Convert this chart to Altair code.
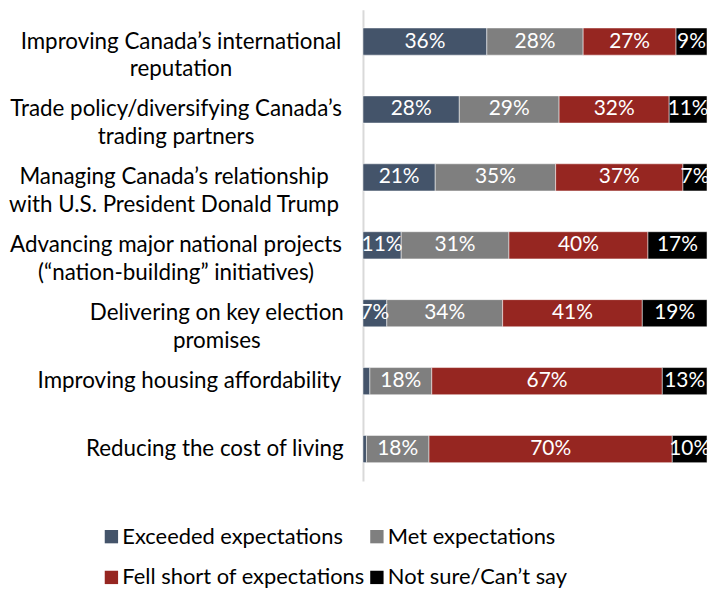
import altair as alt
import pandas as pd

categories = [
    "Improving Canada’s international\nreputation",
    "Trade policy/diversifying Canada’s\ntrading partners",
    "Managing Canada’s relationship\nwith U.S. President Donald Trump",
    "Advancing major national projects\n(“nation-building” initiatives)",
    "Delivering on key election\npromises",
    "Improving housing affordability",
    "Reducing the cost of living",
]
series = ["Exceeded expectations", "Met expectations",
          "Fell short of expectations", "Not sure/Can’t say"]
exceeded = [36, 28, 21, 11, 7, 2, 1]
met = [28, 29, 35, 31, 34, 18, 18]
fell_short = [27, 32, 37, 40, 41, 67, 70]
not_sure = [9, 11, 7, 17, 19, 13, 10]
colors = ["#44546A", "#7F7F7F", "#962621", "#000000"]

rows = []
for i, cat in enumerate(categories):
    for j, (s, vals) in enumerate(zip(series, [exceeded, met, fell_short, not_sure])):
        v = vals[i]
        rows.append({"category": cat, "series": s, "order": j, "value": v,
                     "label": f"{v}%" if v >= 5 else ""})
df = pd.DataFrame(rows)

FONT = "Lato"
LABEL_GAP = 22
# approximate rendered width of the widest line of each label (px), used to
# centre wrapped lines the way the original chart does
label_widths = {"reputation": 323, "trading partners": 333, "Donald Trump": 337,
                "initiatives": 333, "promises": 251, "housing": 306,
                "cost of living": 255}
pad_conditions = [
    {"test": f"indexof(datum.value, '{k}') >= 0", "value": LABEL_GAP + w / 2}
    for k, w in label_widths.items()
]

base = alt.Chart(df).transform_stack(
    stack="value", groupby=["category"], as_=["x0", "x1"],
    offset="normalize", sort=[alt.SortField("order")]
).transform_calculate(mid="(datum.x0 + datum.x1) / 2")

y_enc = alt.Y("category:N", sort=categories, title=None,
              scale=alt.Scale(paddingInner=0.6, paddingOuter=0.27),
              axis=alt.Axis(labelExpr="split(datum.label, '\\n')",
                            labelFontSize=22.5, labelFont=FONT, labelColor="#000000",
                            labelLineHeight=28, labelLimit=0,
                            labelAlign="center",
                            labelPadding={"condition": pad_conditions, "value": 180},
                            ticks=False, domainColor="#D9D9D9", domainWidth=2))

bars = base.mark_bar(stroke="white", strokeWidth=0.5).encode(
    x=alt.X("x0:Q", axis=None, scale=alt.Scale(domain=[0, 1], nice=False)),
    x2="x1:Q",
    y=y_enc,
    color=alt.Color("series:N", sort=series,
                    scale=alt.Scale(domain=series, range=colors),
                    legend=alt.Legend(title=None, orient="none", columns=2,
                                      direction="horizontal",
                                      legendX=-264, legendY=519,
                                      symbolType="square", symbolSize=180,
                                      symbolStrokeWidth=0,
                                      labelFontSize=22, labelFont=FONT,
                                      labelColor="#000000", labelLimit=0,
                                      columnPadding=1, rowPadding=19,
                                      symbolOffset=0, labelOffset=0)),
)

texts = base.mark_text(color="white", fontSize=21, font=FONT).encode(
    x=alt.X("mid:Q", scale=alt.Scale(domain=[0, 1], nice=False)),
    y=alt.Y("category:N", sort=categories),
    text="label:N",
)

chart = alt.layer(bars, texts).properties(
    width=346, height=474, padding=0, background="white"
).configure_view(stroke=None)

chart.save("out.html", embed_options={"renderer": "svg", "actions": False})
